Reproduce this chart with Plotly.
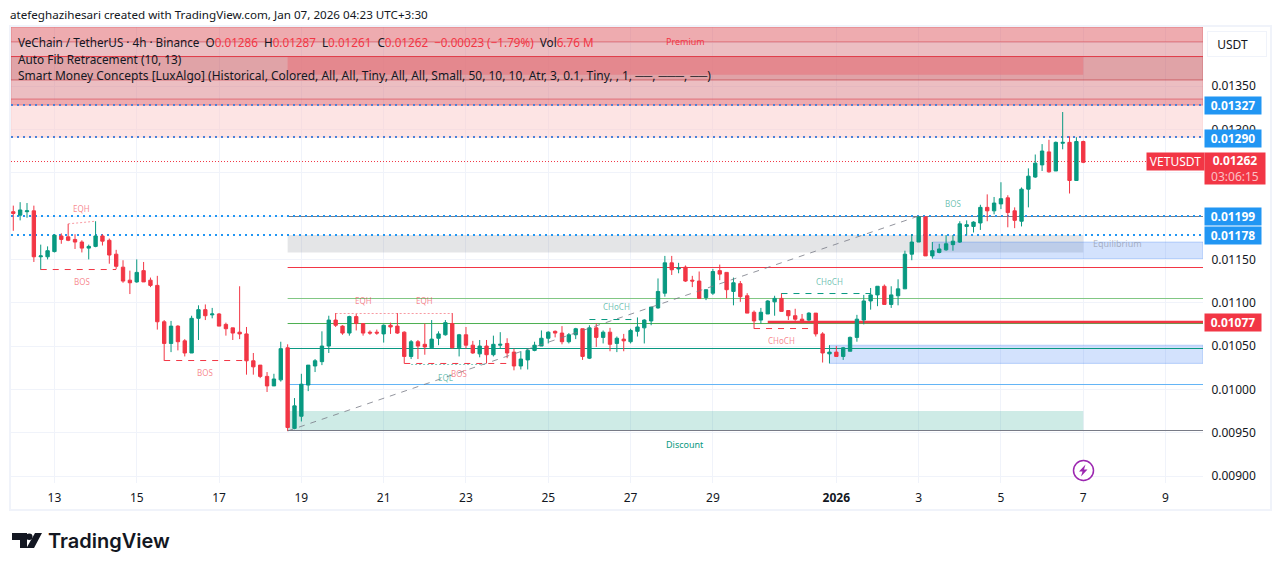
import pandas as pd
import plotly.graph_objects as go

# VET/USDT 4h candles, prices in units of 0.00001
opens = [1205,1201,1205,1206,1153,1153,1159,1177,1176,1173,
         1170,1163,1165,1177,1172,1156,1141,1126,1124,1137,
         1126,1120,1078,1053,1073,1056,1042,1082,1092,1086,
         1087,1075,1071,1066,1064,1033,1028,1015,1004,1011,
         1048,955,969,1005,1027,1032,1050,1080,1073,1065,
         1084,1076,1066,1066,1064,1074,1073,1066,1038,1055,
         1052,1048,1059,1063,1076,1048,1063,1051,1041,1050,
         1040,1051,1053,1043,1027,1034,1045,1050,1059,1067,
         1065,1055,1063,1070,1036,1071,1060,1066,1053,1058,
         1055,1067,1071,1079,1094,1111,1146,1139,1141,1126,
         1125,1106,1111,1137,1135,1113,1122,1108,1089,1080,
         1087,1101,1105,1091,1085,1081,1080,1088,1064,1041,
         1043,1038,1044,1060,1080,1102,1109,1119,1098,1108,
         1116,1156,1170,1199,1154,1158,1161,1167,1170,1188,
         1188,1192,1210,1206,1214,1221,1206,1194,1231,1245,
         1259,1274,1252,1284,1285,1241,1286]
highs = [1212,1216,1215,1212,1167,1165,1179,1180,1191,1179,
         1172,1167,1194,1179,1174,1161,1149,1137,1150,1147,
         1129,1131,1080,1079,1074,1058,1085,1097,1098,1094,
         1088,1077,1071,1119,1072,1042,1028,1020,1018,1055,
         1052,990,1018,1028,1035,1067,1085,1088,1074,1085,
         1087,1076,1068,1069,1075,1077,1088,1067,1057,1057,
         1076,1080,1067,1080,1088,1064,1072,1056,1057,1057,
         1062,1066,1059,1047,1044,1047,1055,1068,1067,1068,
         1073,1065,1071,1070,1074,1076,1068,1071,1061,1064,
         1070,1083,1081,1095,1128,1154,1154,1146,1143,1131,
         1136,1115,1139,1144,1135,1129,1125,1111,1091,1094,
         1103,1108,1111,1091,1093,1087,1089,1088,1066,1051,
         1050,1049,1061,1086,1109,1117,1119,1121,1119,1127,
         1160,1179,1200,1200,1170,1168,1178,1178,1194,1195,
         1194,1213,1225,1222,1239,1224,1210,1233,1255,1271,
         1283,1288,1286,1320,1292,1291,1287]
lows = [1183,1195,1198,1147,1138,1150,1158,1168,1171,1162,
        1158,1150,1164,1166,1145,1139,1123,1110,1123,1124,
        1118,1069,1033,1043,1045,1038,1042,1057,1080,1082,
        1073,1062,1057,1058,1017,1017,1013,997,1004,1009,
        952,954,963,998,1020,1028,1042,1072,1063,1062,
        1068,1062,1063,1063,1054,1064,1064,1030,1035,1035,
        1040,1047,1051,1062,1047,1038,1047,1041,1037,1030,
        1038,1047,1036,1022,1023,1023,1044,1050,1053,1060,
        1052,1053,1058,1034,1035,1049,1053,1044,1043,1044,
        1053,1061,1053,1074,1093,1107,1132,1134,1124,1118,
        1105,1103,1109,1126,1105,1097,1101,1088,1070,1076,
        1087,1085,1090,1080,1079,1076,1079,1061,1031,1030,
        1038,1034,1044,1055,1075,1092,1096,1098,1094,1097,
        1116,1149,1170,1154,1151,1157,1160,1160,1169,1178,
        1181,1184,1194,1202,1208,1187,1186,1188,1210,1244,
        1252,1250,1252,1277,1226,1241,1261]
closes = [1203,1207,1206,1153,1154,1160,1178,1173,1172,1170,
          1163,1165,1177,1171,1155,1142,1125,1123,1135,1124,
          1120,1078,1053,1073,1055,1042,1082,1092,1085,1087,
          1073,1070,1065,1064,1033,1026,1015,1004,1012,1047,
          956,981,1006,1028,1033,1050,1080,1074,1065,1084,
          1076,1065,1065,1065,1074,1072,1065,1038,1055,1050,
          1049,1058,1064,1077,1048,1063,1051,1042,1050,1040,
          1052,1052,1042,1027,1035,1045,1051,1059,1066,1065,
          1055,1063,1070,1038,1071,1060,1066,1052,1059,1056,
          1068,1072,1080,1095,1113,1146,1138,1140,1125,1125,
          1105,1115,1136,1133,1115,1123,1107,1088,1079,1089,
          1102,1105,1090,1085,1081,1078,1088,1064,1042,1043,
          1038,1048,1060,1081,1102,1109,1119,1098,1109,1116,
          1156,1170,1199,1154,1160,1162,1168,1171,1191,1190,
          1193,1210,1206,1215,1220,1204,1195,1231,1246,1261,
          1275,1251,1285,1285,1241,1286,1262]

tick_dates = ['2025-12-13', '2025-12-15', '2025-12-17', '2025-12-19', '2025-12-21',
              '2025-12-23', '2025-12-25', '2025-12-27', '2025-12-29', '2026-01-01',
              '2026-01-03', '2026-01-05', '2026-01-07', '2026-01-09']
tick_labels = ['13', '15', '17', '19', '21', '23', '25', '27', '29', '<b>2026</b>', '3', '5', '7', '9']
price_ticks = [900, 950, 1000, 1050, 1100, 1150, 1200, 1250, 1300, 1350, 1400]
hidden_price_ticks = [1200, 1250, 1400]  # covered by the badges and the USDT button in the original

# (low, high, fill, border)
top_bands = [(1291, 1328, 'rgba(251,201,201,0.5)', 'rgba(251,201,201,0.5)'),
             (1328, 1335, 'rgba(221,87,95,0.5)', 'rgba(221,87,95,0.5)'),
             (1335, 1357, 'rgba(217,125,133,0.5)', 'rgba(221,87,95,0.3)'),
             (1357, 1384, 'rgba(193,71,79,0.5)', 'rgba(193,71,79,0.5)'),
             (1384, 1401, 'rgba(217,125,133,0.5)', 'rgba(217,125,133,0.5)'),
             (1401, 1418, 'rgba(221,87,95,0.5)', 'rgba(221,87,95,0.5)')]
# (first candle, last candle, low, high, fill, border)
boxes = [(40, 156, 1363, 1384, 'rgba(230,124,131,0.7)', None),
         (40, 156, 1158, 1178, 'rgba(120,123,134,0.2)', None),
         (40, 156, 952, 975, 'rgba(8,153,129,0.2)', None),
         (134, None, 1151, 1170, 'rgba(33,110,243,0.2)', 'rgba(33,110,243,0.25)'),
         (119, None, 1030, 1051, 'rgba(33,110,243,0.2)', 'rgba(33,110,243,0.25)')]
# (price, first candle, colour, width)
fib_lines = [(1199.47, 40, '#787b86', 1), (1140.63, 40, '#f23645', 1), (1104.86, 40, '#81c784', 1),
             (1076.0, 40, '#4caf50', 1), (1047.17, 40, '#089981', 1), (1005.64, 40, '#64b5f6', 1),
             (952.57, 40, '#787b86', 1), (1384.06, 0, '#e0404c', 1), (1077.75, 110, '#f23645', 2.5)]
dotted_levels = [(1328.1, '#4a80d8'), (1291.2, '#4a80d8'), (1200.0, '#2196f3'), (1178.1, '#2196f3')]
last_price_line = 1262.9
# (first candle, last candle, price at start, price at end, colour, dash)
structure_lines = [(4, 15, 1138.3, 1138.3, '#f23645', '6px,6px'),
                   (22, 34, 1033.3, 1033.3, '#f23645', '6px,6px'),
                   (57, 72, 1029.9, 1029.9, '#f23645', '6px,6px'),
                   (84, 91, 1080.6, 1080.6, '#089981', '6px,6px'),
                   (108, 117, 1070.2, 1070.2, '#f23645', '6px,6px'),
                   (112, 125, 1110.6, 1110.6, '#089981', '6px,6px'),
                   (8, 12, 1191, 1194, 'rgba(242,54,69,0.5)', '2px,2px'),
                   (47, 64, 1087.55, 1087.55, 'rgba(242,54,69,0.5)', '2px,2px'),
                   (58, 69, 1028.7, 1028.7, 'rgba(8,153,129,0.5)', '2px,2px'),
                   (40, 132, 952, 1200, 'rgba(120,123,134,0.8)', '6px,6px')]
# (text, candle position, price, colour, size)
chart_labels = [('EQH', 10, 1209, 'rgba(242,54,69,0.6)', 8), ('BOS', 10, 1124, 'rgba(242,54,69,0.6)', 8),
                ('BOS', 28, 1020, 'rgba(242,54,69,0.6)', 8), ('EQH', 51, 1102, 'rgba(242,54,69,0.6)', 8),
                ('EQH', 60, 1102, 'rgba(242,54,69,0.6)', 8), ('BOS', 65, 1018, 'rgba(242,54,69,0.6)', 8),
                ('EQL', 63, 1014, 'rgba(8,153,129,0.6)', 8), ('CHoCH', 88, 1096, 'rgba(8,153,129,0.6)', 8),
                ('CHoCH', 112, 1056, 'rgba(242,54,69,0.6)', 8), ('CHoCH', 119, 1124, 'rgba(8,153,129,0.6)', 8),
                ('BOS', 137, 1214, 'rgba(8,153,129,0.6)', 8), ('Premium', 98, 1401, '#f23645', 9),
                ('Discount', 98, 936, '#089981', 9), ('Equilibrium', 161, 1168, 'rgba(120,123,134,0.5)', 9)]
# (text, price, colour)
price_badges = [('0.01327', 1327, '#2196f3'), ('0.01290', 1290, '#2196f3'), ('0.01199', 1199, '#2196f3'),
                ('0.01178', 1178, '#2196f3'), ('0.01077', 1077, '#f23645')]

FONT = 'Noto Sans'
TEXT = '#131722'
PLOT_L, PLOT_R, PLOT_T, PLOT_B = 11, 1203, 27, 483

start = pd.Timestamp('2025-12-12')
def t(i):
    return (start + pd.Timedelta(hours=4 * i)).isoformat()
def p(v):
    return v / 1e5
def px(x):
    return (x - PLOT_L) / (PLOT_R - PLOT_L)
def py(y):
    return (PLOT_B - y) / (PLOT_B - PLOT_T)

x_left = '2025-12-11 22:40'
x_right = '2026-01-09 21:50'
times = [t(i) for i in range(len(opens))]

fig = go.Figure(go.Candlestick(
    x=times,
    open=[p(v) for v in opens], high=[p(v) for v in highs],
    low=[p(v) for v in lows], close=[p(v) for v in closes],
    increasing=dict(line=dict(color='#089981', width=1), fillcolor='#089981'),
    decreasing=dict(line=dict(color='#f23645', width=1), fillcolor='#f23645'),
    whiskerwidth=0, hoverinfo='skip', showlegend=False))

# zones and levels between the grid and the candles
for low, high, fill, border in top_bands:
    fig.add_shape(type='rect', x0=x_left, x1=x_right, y0=p(low), y1=p(high), fillcolor=fill,
                  line=dict(color=border, width=1), layer='between')
for first, last, low, high, fill, border in boxes:
    fig.add_shape(type='rect', x0=t(first), x1=t(last) if last else x_right, y0=p(low), y1=p(high),
                  fillcolor=fill, line=dict(color=border or 'rgba(0,0,0,0)', width=1), layer='between')
for price, first, color, width in fib_lines:
    fig.add_shape(type='line', x0=t(first) if first else x_left, x1=x_right, y0=p(price), y1=p(price),
                  line=dict(color=color, width=width), layer='between')
fig.add_shape(type='line', x0=x_left, x1=x_right, y0=p(last_price_line), y1=p(last_price_line),
              line=dict(color='#f23645', width=1, dash='1px,2px'), layer='between')
for price, color in dotted_levels:
    fig.add_shape(type='line', x0=x_left, x1=x_right, y0=p(price), y1=p(price),
                  line=dict(color=color, width=2, dash='2px,4px'), layer='between')
for first, last, y0, y1, color, dash in structure_lines:
    fig.add_shape(type='line', x0=t(first), x1=t(last), y0=p(y0), y1=p(y1),
                  line=dict(color=color, width=1, dash=dash))

for text, pos, price, color, size in chart_labels:
    fig.add_annotation(x=t(pos), y=p(price), text=text, showarrow=False,
                       font=dict(family=FONT, size=size, color=color))

def label(x, y, text, size=12, color=TEXT, anchor='left', **kw):
    fig.add_annotation(xref='paper', yref='paper', x=px(x), y=py(y), text=text, showarrow=False,
                       xanchor=anchor, yanchor='middle', font=dict(family=FONT, size=size, color=color), **kw)

# price scale badges
for text, price, color in price_badges:
    fig.add_annotation(xref='paper', yref='y', x=px(1204), y=p(price), text=f'<b>{text}</b>', showarrow=False,
                       xanchor='left', yanchor='middle', width=54, height=15, bgcolor=color, align='center',
                       font=dict(family=FONT, size=12, color='white'))
label(1204, 168.5, '<b>0.01262</b><br><span style="color:rgba(255,255,255,0.7)">03:06:15</span>', color='white',
      bgcolor='#f23645', width=58, height=29, align='center')
label(1146, 161.5, 'VETUSDT', color='white', bgcolor='#f23645', width=55, height=15, align='center')
label(1207, 44, '&nbsp;&nbsp;USDT', bgcolor='white', bordercolor='#f0f3fa', borderwidth=1, borderpad=3, width=52,
      height=18, align='left')

# header and legend
red = '<span style="color:#f23645">{}</span>'
label(8, 14, 'atefeghazihesari created with TradingView.com, Jan 07, 2026 04:23 UTC+3:30', size=11.65)
label(16, 42, 'VeChain / TetherUS · 4h · Binance  O' + red.format('0.01286') + '  H' + red.format('0.01287')
      + '  L' + red.format('0.01261') + '  C' + red.format('0.01262') + '  ' + red.format('−0.00023 (−1.79%)')
      + '  Vol' + red.format('6.76 M'), size=11.7)
label(16, 59, 'Auto Fib Retracement (10, 13)', size=11.8)
label(16, 76, 'Smart Money Concepts [LuxAlgo] (Historical, Colored, All, All, Tiny, All, All, Small, 50, 10, 10, '
              'Atr, 3, 0.1, Tiny, , 1, ──, ───, ──)')

def path(points):
    return 'M ' + ' L '.join(f'{px(x)} {py(y)}' for x, y in points) + ' Z'

# flash icon
fig.add_shape(type='circle', xref='paper', yref='paper', x0=px(1073.5), x1=px(1093.5), y0=py(480.5), y1=py(460.5),
              line=dict(color='#9c27b0', width=1.5), fillcolor='white')
fig.add_shape(type='path', xref='paper', yref='paper', fillcolor='#9c27b0', line_width=0,
              path=path([(1085.5, 464.5), (1079, 471.5), (1082.5, 471.5), (1081, 476.5), (1087.5, 469.5), (1084, 469.5)]))

# outer frame
fig.add_shape(type='rect', xref='paper', yref='paper', x0=px(10), x1=px(1271), y0=py(510), y1=py(26),
              line=dict(color='#f0f3fa', width=2))

# logo
for pts in ([(12, 533), (27, 533), (27, 548), (20, 548), (20, 540), (12, 540)],
            [(35, 533), (42, 533), (34, 548), (26.5, 548)]):
    fig.add_shape(type='path', xref='paper', yref='paper', path=path(pts), fillcolor='#131722', line_width=0)
fig.add_shape(type='circle', xref='paper', yref='paper', x0=px(26), x1=px(32.5), y0=py(540), y1=py(533.5),
              fillcolor='#131722', line_width=0)
fig.add_annotation(xref='paper', yref='paper', x=px(46), y=py(541), text='TradingView', showarrow=False,
                   xanchor='left', yanchor='middle', font=dict(family='Inter', size=20, color='#131722', weight=600))

fig.update_layout(
    width=1281, height=571, autosize=False,
    margin=dict(l=PLOT_L, r=1281 - PLOT_R, t=PLOT_T, b=571 - PLOT_B),
    paper_bgcolor='white', plot_bgcolor='white', showlegend=False,
    font=dict(family=FONT, size=12, color=TEXT),
    xaxis=dict(type='date', range=[x_left, x_right], tickvals=tick_dates, ticktext=tick_labels, showgrid=True,
               gridcolor='#f0f3fa', zeroline=False, showline=False, ticks='outside', ticklen=4,
               tickcolor='rgba(0,0,0,0)', rangeslider=dict(visible=False)),
    yaxis=dict(side='right', range=[0.00892, 0.014181], tickvals=[p(v) for v in price_ticks], tickformat='.5f',
               ticktext=['' if v in hidden_price_ticks else f'{p(v):.5f}' for v in price_ticks],
               showgrid=True, gridcolor='#f0f3fa', zeroline=False, showline=False, ticks='outside', ticklen=5,
               tickcolor='rgba(0,0,0,0)'),
)

fig.write_html("out.html", config={'displayModeBar': False}, post_script="document.body.style.margin='0';")
